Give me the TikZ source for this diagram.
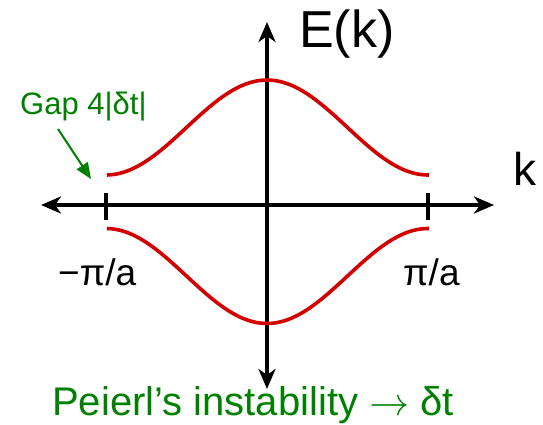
\documentclass[tikz,border=0pt]{standalone}
\usepackage{fontspec}
\setmainfont{Liberation Sans}
\newfontfamily\arrowfont{Latin Modern Math}
\usetikzlibrary{arrows.meta}
\definecolor{bandred}{RGB}{210,0,0}
\definecolor{labgreen}{RGB}{0,128,0}
\begin{document}
\begin{tikzpicture}[x=1pt,y=-1pt,
  axis/.style={line width=4pt,-{Stealth[length=20pt,width=17pt,inset=6pt]}},
  band/.style={line width=3.6pt,bandred},
  tickmark/.style={line width=4pt},
  lab/.style={inner sep=0pt,anchor=base west}]
\useasboundingbox (0,0) rectangle (543,425);
\coordinate (o) at (267,205);
\coordinate (xl) at (41,205);
\coordinate (xr) at (494,205);
\coordinate (yt) at (267,22);
\coordinate (yb) at (267,389);
\draw[axis] (o) -- (xl);
\draw[axis] (o) -- (xr);
\draw[axis] (o) -- (yt);
\draw[axis] (o) -- (yb);
\coordinate (tl) at (106,205);
\coordinate (tr) at (428,205);
\draw[tickmark] ([yshift=-15pt]tl) -- ([yshift=12pt]tl);
\draw[tickmark] ([yshift=-15pt]tr) -- ([yshift=12pt]tr);
\draw[band] plot[domain=-160:162,samples=80,smooth] ({\x+267},{205-(77.5+47.5*cos(\x*1.118))});
\draw[band] plot[domain=-160:162,samples=80,smooth] ({\x+267},{205+(71+47.5*cos(\x*1.118))});
\node[lab,font=\fontsize{52}{60}\selectfont] (E) at (299,48) {E(k)};
\node[lab,font=\fontsize{46}{54}\selectfont] (k) at (513,185) {k};
\node[lab,font=\fontsize{37}{44}\selectfont] (ml) at (58,285) {−π/a};
\node[lab,font=\fontsize{37}{44}\selectfont] (pl) at (403,285) {π/a};
\node[lab,font=\fontsize{31}{36}\selectfont,text=labgreen] (gap) at (20,115) {Gap 4|δt|};
\coordinate (gt) at (91,179);
\draw[labgreen,line width=2pt,-{Triangle[length=16pt,width=13pt]}] (58,129) -- (gt);
\node[lab,font=\fontsize{40}{48}\selectfont,text=labgreen] (pei) at (52,415) {Peierl’s instability {\arrowfont →} δt};
\end{tikzpicture}
\end{document}
